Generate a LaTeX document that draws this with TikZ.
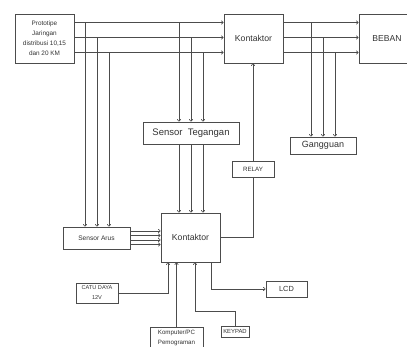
\documentclass[tikz,border=0pt]{standalone}
\usepackage{fontspec}
\setmainfont{Liberation Sans}
\usetikzlibrary{arrows.meta}
\begin{document}
\begin{tikzpicture}[x=1pt,y=-1pt,
  box/.style={draw=black!70,line width=0.8pt,rectangle,inner sep=0pt,align=center,text=black!80},
  ln/.style={draw=black!70,line width=0.6pt},
  arr/.style={ln,-{To[length=2.5pt,width=4pt]}},
  fs/.style={font=\fontsize{#1}{#1}\selectfont}]
\useasboundingbox[fill=white] (0,0) rectangle (407,347);
% nodes
\node[box,minimum width=59pt,minimum height=49pt,font=\fontsize{6.4}{10}\selectfont] (proto) at (44.5,38.5) {Prototipe\\Jaringan\\distribusi 10,15\\dan 20 KM};
\node[box,minimum width=59pt,minimum height=49pt,fs=8.7] (k1) at (253.5,38.5) {Kontaktor};
\node[box,minimum width=56pt,minimum height=49pt,fs=8.6] (beban) at (387,38.5) {BEBAN};
\node[box,minimum width=96pt,minimum height=22pt,fs=9.5] (st) at (191,133) {Sensor\ \ Tegangan};
\node[box,minimum width=66pt,minimum height=17pt,fs=9] (gg) at (323,145.5) {Gangguan};
\node[box,minimum width=42pt,minimum height=16pt,fs=6.2] (relay) at (253,169) {RELAY};
\node[box,minimum width=59pt,minimum height=49pt,fs=8.7] (k2) at (190.5,237.5) {Kontaktor};
\node[box,minimum width=67pt,minimum height=22pt,fs=6.6] (sa) at (96.5,238) {Sensor Arus};
\node[box,minimum width=42pt,minimum height=20pt,font=\fontsize{5.6}{10}\selectfont] (catu) at (97,293) {CATU DAYA\\12V};
\node[box,minimum width=41pt,minimum height=16pt,fs=7.4] (lcd) at (286.5,289) {LCD};
\node[box,minimum width=28pt,minimum height=11pt,fs=5.9] (keypad) at (235,331.5) {KEYPAD};
\node[box,minimum width=53pt,minimum height=30pt,anchor=north,font=\fontsize{6.2}{10}\selectfont] (kom) at (176.5,327) {\raisebox{0pt}{Komputer/PC}\\Pemograman\\\ };
% main rows
\foreach \y in {22.5,37.5,52.5}{
  \draw[arr] (proto.east |- 0,\y) -- (k1.west |- 0,\y);
  \draw[arr] (k1.east |- 0,\y) -- (beban.west |- 0,\y);
}
% drops to Sensor Arus
\coordinate (a1) at (85,22.5);
\coordinate (a2) at (97,37.5);
\coordinate (a3) at (109,52.5);
\foreach \c in {a1,a2,a3} \draw[arr] (\c) -- (\c |- sa.north);
% drops to Sensor Tegangan and on to Kontaktor
\coordinate (b1) at (179,22.5);
\coordinate (b2) at (191,37.5);
\coordinate (b3) at (203,52.5);
\foreach \c in {b1,b2,b3}{
  \draw[arr] (\c) -- (\c |- st.north);
  \draw[arr] (\c |- st.south) -- (\c |- k2.north);
}
% drops to Gangguan
\coordinate (c1) at (311,22.5);
\coordinate (c2) at (323,37.5);
\coordinate (c3) at (335,52.5);
\foreach \c in {c1,c2,c3} \draw[arr] (\c) -- (\c |- gg.north);
% Sensor Arus to Kontaktor
\foreach \y in {231,235.5,240,244.5} \draw[arr] (sa.east |- 0,\y) -- (k2.west |- 0,\y);
% relay loop
\draw[ln] (k2.east) -| (relay.south);
\draw[arr] (relay.north) -- (relay.north |- k1.south);
% catu daya
\draw[arr] (catu.east) -| (168,0 |- k2.south);
% komputer
\draw[arr] (kom.north) -- (kom.north |- k2.south);
% keypad
\coordinate (kp) at (195,311);
\draw[arr] (keypad.north) |- (kp) -- (kp |- k2.south);
% lcd
\coordinate (lc) at (211,289);
\draw[arr] (lc |- k2.south) -- (lc) -- (lcd.west);
\end{tikzpicture}
\end{document}
